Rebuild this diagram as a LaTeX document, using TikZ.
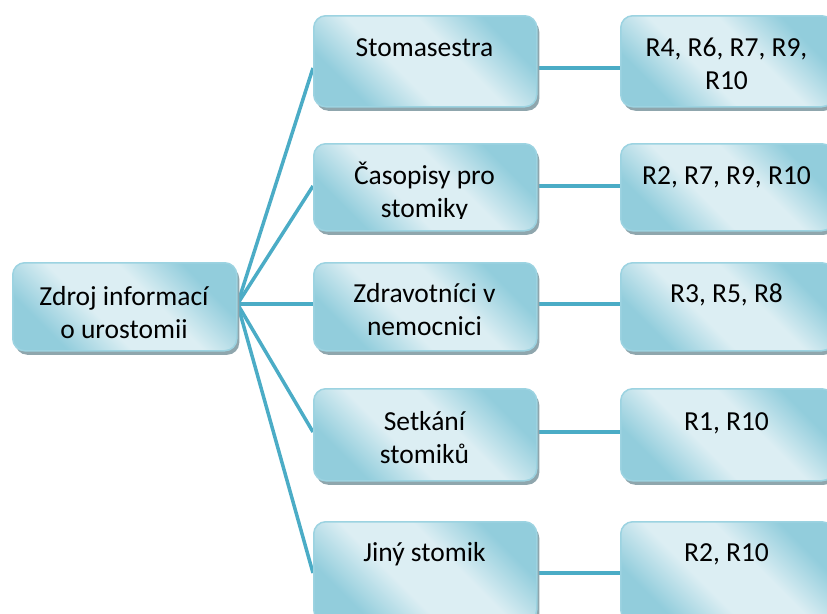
\documentclass[tikz,border=0pt]{standalone}
\usepackage{fontspec}
\setmainfont{Carlito}
\usetikzlibrary{shadows,backgrounds}
\definecolor{linkc}{HTML}{4BACC6}
\definecolor{boxdark}{HTML}{92CDDC}
\definecolor{boxlight}{HTML}{DCEEF3}
\definecolor{boxedge}{HTML}{9CD3E1}
\definecolor{boxshadow}{HTML}{8FA6AD}
% diagonal glow: darker towards two opposite corners, light band between
\pgfdeclarehorizontalshading{boxglow}{100bp}{%
  color(0bp)=(boxdark); color(27bp)=(boxdark); color(42bp)=(boxlight);
  color(58bp)=(boxlight); color(73bp)=(boxdark); color(100bp)=(boxdark)}
\tikzset{
  box/.style={rectangle, rounded corners=12pt, draw=boxedge, line width=1.5pt,
    shading=boxglow, shading angle=45, inner sep=0pt, anchor=north west,
    drop shadow={shadow xshift=2.5pt, shadow yshift=-4pt, fill=boxshadow, opacity=1}},
  midbox/.style={box, minimum width=223pt},
  resbox/.style={box, minimum width=213pt},
  boxtext/.style={anchor=base, inner sep=0pt, font=\fontsize{27.5}{33}\selectfont, text=black},
  link/.style={draw=linkc, line width=3.5pt},
}
\newcommand{\twolines}[2]{\begin{tabular}[t]{@{}c@{}}#1\\#2\end{tabular}}
\begin{document}
\begin{tikzpicture}[x=1pt, y=-1pt]
  \useasboundingbox (0,0) rectangle (827,613);
  \clip (0,0) rectangle (827,613);

  % connector heights of the five rows
  \coordinate (r1) at (0,68);
  \coordinate (r2) at (0,186);
  \coordinate (r3) at (0,304);
  \coordinate (r4) at (0,432);
  \coordinate (r5) at (0,573);

  % root
  \node[box, minimum width=224pt, minimum height=88pt] (src) at (12,262) {};
  \node[boxtext] (srct) at (124,305) {\twolines{Zdroj informací}{o urostomii}};

  % sources
  \node[midbox, minimum height=91pt] (m1) at (313,15) {};
  \node[midbox, minimum height=87pt] (m2) at (313,143) {};
  \node[midbox, minimum height=88pt] (m3) at (313,262) {};
  \node[midbox, minimum height=92pt] (m4) at (313,388) {};
  \node[midbox, minimum height=100pt] (m5) at (313,521) {};

  \node[boxtext] (m1t) at (424.5,56) {Stomasestra};
  \begin{scope}
    \clip (313,143) rectangle (536,218);
    \node[boxtext] (m2t) at (424.5,184) {\twolines{Časopisy pro}{stomiky}};
  \end{scope}
  \node[boxtext] (m3t) at (424.5,302) {\twolines{Zdravotníci v}{nemocnici}};
  \node[boxtext] (m4t) at (424.5,430) {\twolines{Setkání}{stomiků}};
  \node[boxtext] (m5t) at (424.5,561) {Jiný stomik};

  % respondents
  \node[resbox, minimum height=91pt] (n1) at (620,15) {};
  \node[resbox, minimum height=87pt] (n2) at (620,143) {};
  \node[resbox, minimum height=88pt] (n3) at (620,262) {};
  \node[resbox, minimum height=92pt] (n4) at (620,388) {};
  \node[resbox, minimum height=100pt] (n5) at (620,521) {};

  \node[boxtext] (n1t) at (726.5,56) {\twolines{R4, R6, R7, R9,}{R10}};
  \node[boxtext] (n2t) at (726.5,184) {R2, R7, R9, R10};
  \node[boxtext] (n3t) at (726.5,302) {R3, R5, R8};
  \node[boxtext] (n4t) at (726.5,430) {R1, R10};
  \node[boxtext] (n5t) at (726.5,561) {R2, R10};

  % connectors
  \begin{scope}[on background layer]
    \coordinate (hub) at (src.east |- r3);
    \foreach \i in {1,...,5} {
      \draw[link] (hub) -- (m\i.west |- r\i);
      \draw[link] (m\i.east |- r\i) -- (n\i.west |- r\i);
    }
  \end{scope}
\end{tikzpicture}
\end{document}
